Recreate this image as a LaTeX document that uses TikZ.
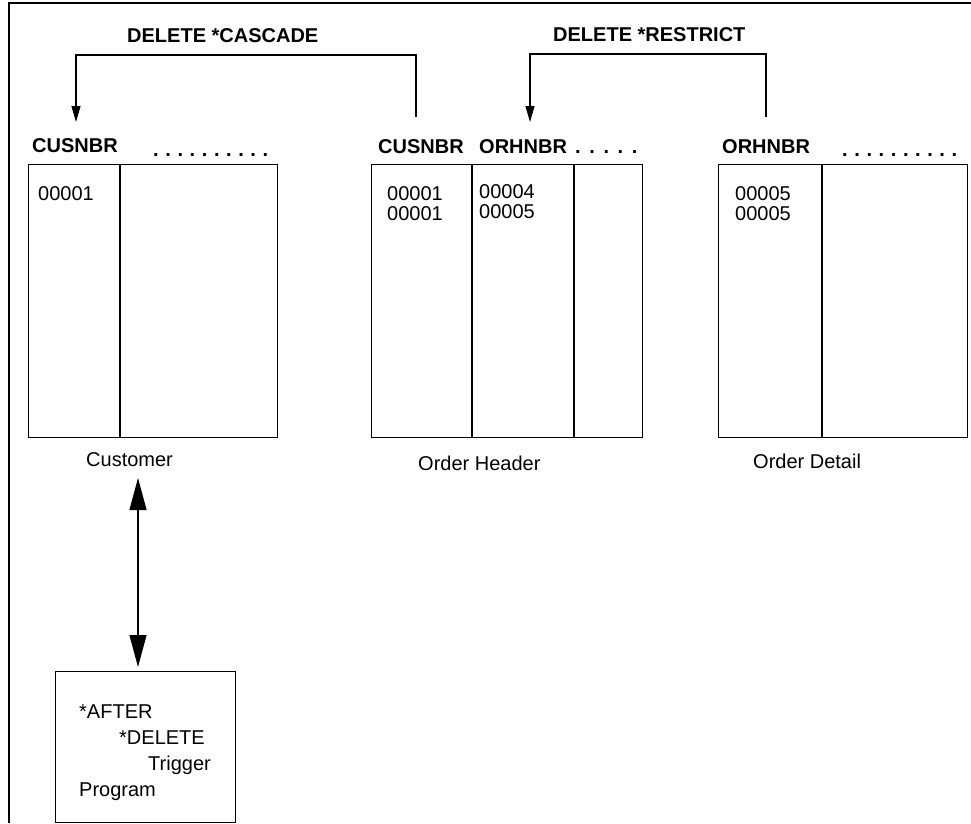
\documentclass[tikz,border=0pt]{standalone}
\usepackage{fontspec}
\setmainfont{Liberation Sans}
\usetikzlibrary{arrows.meta}
\newcommand\dsA{\hspace{6.6pt}}
\newcommand\dsB{\hspace{8.6pt}}
\begin{document}
\begin{tikzpicture}[x=1pt,y=-1pt,
  font=\fontsize{20}{24}\selectfont,
  tbl/.style={draw, line width=1.2pt, rectangle, inner sep=0pt, anchor=north west},
  txt/.style={anchor=base west, inner sep=0pt},
  hdr/.style={txt, font=\fontsize{20}{24}\selectfont\bfseries},
  conn/.style={line width=1.1pt},
  smallhead/.style={-{Triangle[length=16pt,width=9pt]}},
  bighead/.style={{Triangle[length=32pt,width=17pt]}-{Triangle[length=32pt,width=17pt]}}
  ]
\useasboundingbox (0,0) rectangle (971,823);
% frame
\draw[line width=1.1pt] (971,3) -- (9,3) -- (9,823);

% titles
\node[hdr] (tcas) at (127,42) {DELETE *CASCADE};
\node[hdr] (tres) at (553,41) {DELETE *RESTRICT};

% Customer table
\node[tbl, minimum width=249pt, minimum height=273pt] (cust) at (28,164) {};
\draw[line width=1.1pt] ([xshift=92pt]cust.north west) -- ([xshift=92pt]cust.south west);
\node[hdr] (custh) at (32,152) {CUSNBR};
\node[hdr] (custd) at (153,156) {.\dsA.\dsA.\dsA.\dsA.\dsA.\dsA.\dsA.\dsA.\dsA.};
\node[txt] (custv) at (38,200) {00001};
\node[txt] (custl) at (86,466) {Customer};

% Order Header table
\node[tbl, minimum width=271pt, minimum height=273pt] (ohdr) at (371,164) {};
\draw[line width=1.1pt] ([xshift=101pt]ohdr.north west) -- ([xshift=101pt]ohdr.south west);
\draw[line width=1.1pt] ([xshift=203pt]ohdr.north west) -- ([xshift=203pt]ohdr.south west);
\node[hdr] (ohh1) at (378,153) {CUSNBR};
\node[hdr] (ohh2) at (479,153) {ORHNBR};
\node[hdr] (ohd) at (575,153) {.\dsB.\dsB.\dsB.\dsB.};
\node[txt] (ohv1) at (387,200) {00001};
\node[txt] (ohv2) at (387,220) {00001};
\node[txt] (ohv3) at (479,198) {00004};
\node[txt] (ohv4) at (479,218) {00005};
\node[txt] (ohl) at (418,470) {Order Header};

% Order Detail table
\node[tbl, minimum width=249pt, minimum height=273pt] (odet) at (718,164) {};
\draw[line width=1.1pt] ([xshift=104pt]odet.north west) -- ([xshift=104pt]odet.south west);
\node[hdr] (odh) at (722,153) {ORHNBR};
\node[hdr] (odd) at (842,156) {.\dsA.\dsA.\dsA.\dsA.\dsA.\dsA.\dsA.\dsA.\dsA.};
\node[txt] (odv1) at (735,200) {00005};
\node[txt] (odv2) at (735,220) {00005};
\node[txt] (odl) at (753,468) {Order Detail};

% Cascade connector
\coordinate (casS) at (416,117);
\coordinate (casE) at (76,122);
\draw[conn, smallhead] (casS) -- ++(0,-62) -| (casE);

% Restrict connector
\coordinate (resS) at (766,117);
\coordinate (resE) at (530,122);
\draw[conn, smallhead] (resS) -- ++(0,-63) -| (resE);

% Trigger box
\node[tbl, line width=1pt, minimum width=180pt, minimum height=151pt] (trig) at (55,671) {};
\node[txt] (tg1) at (79,718) {*AFTER};
\node[txt] (tg2) at (119,744) {*DELETE};
\node[txt] (tg3) at (148,770) {Trigger};
\node[txt] (tg4) at (79,796) {Program};

% double arrow
\coordinate (dA) at (138,478);
\coordinate (dB) at (138,667);
\draw[conn, bighead] (dA) -- (dB);
\end{tikzpicture}
\end{document}
